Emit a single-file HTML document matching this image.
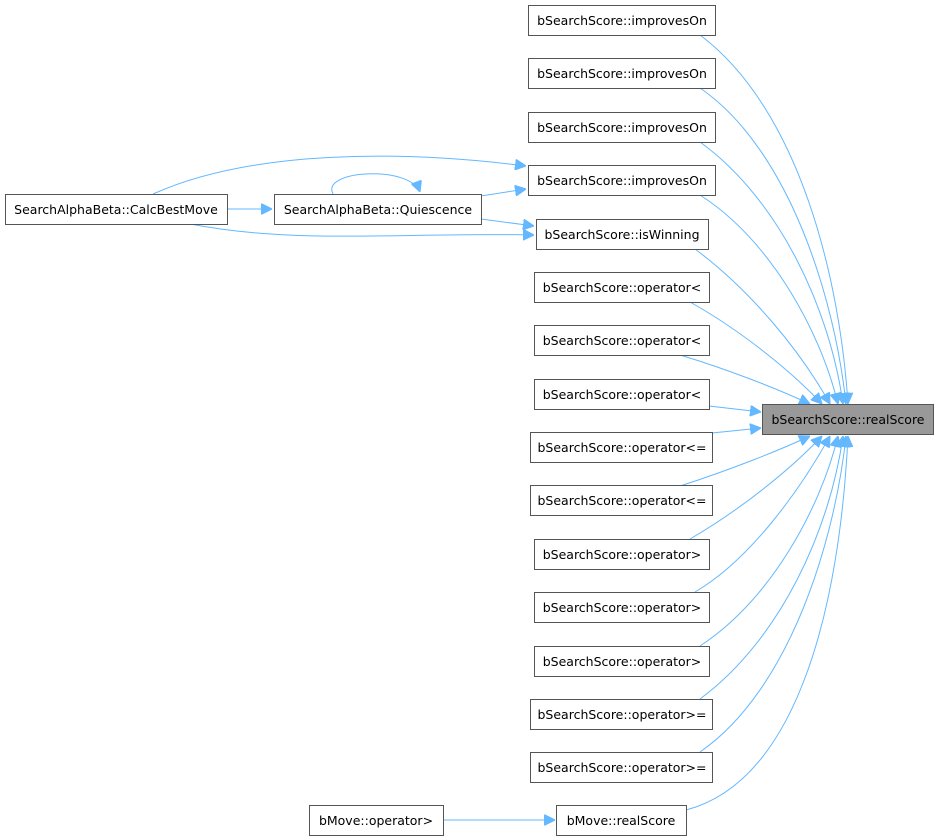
<!DOCTYPE html>
<html><head><meta charset="utf-8"><style>
html,body{margin:0;padding:0;background:#fff;}
svg{display:block;}
text{font-family:"DejaVu Sans","Liberation Sans",sans-serif;font-size:12.5px;fill:#000;}
.b{fill:#fff;stroke:#555;stroke-width:1;}
.e{fill:none;stroke:#63b8ff;stroke-width:1;}
</style></head><body>
<svg width="938" height="840" viewBox="0 0 938 840" xmlns="http://www.w3.org/2000/svg">
<defs><marker id="a" viewBox="0 0 10 10" refX="10" refY="5" markerWidth="11" markerHeight="11" markerUnits="userSpaceOnUse" orient="auto"><path d="M0,0 L10,5 L0,10 z" fill="#63b8ff" stroke="#63b8ff"/></marker></defs>
<g class="e" marker-end="url(#a)">
<path d="M700,35 C800,110 840,280 848,404"/>
<path d="M700,88 C790,150 835,300 846,404"/>
<path d="M700,142 C780,200 830,310 843,404"/>
<path d="M700,195 C770,240 820,330 838,404"/>
<path d="M695,249 C750,290 800,350 830,404"/>
<path d="M690,302 C740,330 790,370 822,404"/>
<path d="M680,355 C730,370 780,390 810,404"/>
<path d="M709,406 L761,412"/>
<path d="M712,433 L761,428"/>
<path d="M680,486 C730,470 780,450 810,436"/>
<path d="M690,539 C740,510 790,470 822,436"/>
<path d="M695,592 C750,560 800,490 830,436"/>
<path d="M700,646 C770,600 820,510 838,436"/>
<path d="M700,699 C780,640 830,530 843,436"/>
<path d="M700,752 C790,690 835,540 846,436"/>
<path d="M686,810 C800,780 840,600 848,436"/>
<path d="M153,194 C250,150 400,150 526,166"/>
<path d="M227,209 L272,209"/>
<path d="M481,196 L526,189"/>
<path d="M481,219 L534,226"/>
<path d="M190,224 C300,245 400,232 534,235"/>
<path d="M333,194 C320,170 410,165 420,192"/>
<path d="M443,820 L555,820"/>
</g>
<g>
<rect class="b" x="528.5" y="5.5" width="187" height="30"/><text x="622" y="25" text-anchor="middle">bSearchScore::improvesOn</text>
<rect class="b" x="528.5" y="58.5" width="187" height="30"/><text x="622" y="78" text-anchor="middle">bSearchScore::improvesOn</text>
<rect class="b" x="528.5" y="112.5" width="187" height="30"/><text x="622" y="132" text-anchor="middle">bSearchScore::improvesOn</text>
<rect class="b" x="528.5" y="165.5" width="187" height="30"/><text x="622" y="185" text-anchor="middle">bSearchScore::improvesOn</text>
<rect class="b" x="536.5" y="219.5" width="172" height="30"/><text x="622" y="239" text-anchor="middle">bSearchScore::isWinning</text>
<rect class="b" x="534.5" y="272.5" width="175" height="30"/><text x="622" y="292" text-anchor="middle">bSearchScore::operator&lt;</text>
<rect class="b" x="534.5" y="325.5" width="175" height="30"/><text x="622" y="345" text-anchor="middle">bSearchScore::operator&lt;</text>
<rect class="b" x="534.5" y="379.5" width="175" height="30"/><text x="622" y="399" text-anchor="middle">bSearchScore::operator&lt;</text>
<rect class="b" x="530.5" y="432.5" width="182" height="30"/><text x="622" y="452" text-anchor="middle">bSearchScore::operator&lt;=</text>
<rect class="b" x="530.5" y="485.5" width="182" height="30"/><text x="622" y="505" text-anchor="middle">bSearchScore::operator&lt;=</text>
<rect class="b" x="534.5" y="539.5" width="175" height="30"/><text x="622" y="559" text-anchor="middle">bSearchScore::operator&gt;</text>
<rect class="b" x="534.5" y="592.5" width="175" height="30"/><text x="622" y="612" text-anchor="middle">bSearchScore::operator&gt;</text>
<rect class="b" x="534.5" y="646.5" width="175" height="30"/><text x="622" y="666" text-anchor="middle">bSearchScore::operator&gt;</text>
<rect class="b" x="530.5" y="699.5" width="182" height="30"/><text x="622" y="719" text-anchor="middle">bSearchScore::operator&gt;=</text>
<rect class="b" x="530.5" y="752.5" width="182" height="30"/><text x="622" y="772" text-anchor="middle">bSearchScore::operator&gt;=</text>
<rect class="b" x="556.5" y="805.5" width="130" height="30"/><text x="621" y="825" text-anchor="middle">bMove::realScore</text>
<rect x="762.5" y="404.5" width="171" height="30" fill="#999" stroke="#555"/><text x="848" y="424" text-anchor="middle">bSearchScore::realScore</text>
<rect class="b" x="5.5" y="194.5" width="222" height="30"/><text x="116" y="214" text-anchor="middle">SearchAlphaBeta::CalcBestMove</text>
<rect class="b" x="274.5" y="194.5" width="207" height="30"/><text x="378" y="214" text-anchor="middle">SearchAlphaBeta::Quiescence</text>
<rect class="b" x="309.5" y="805.5" width="134" height="30"/><text x="376" y="825" text-anchor="middle">bMove::operator&gt;</text>
</g>
</svg>
</body></html>
